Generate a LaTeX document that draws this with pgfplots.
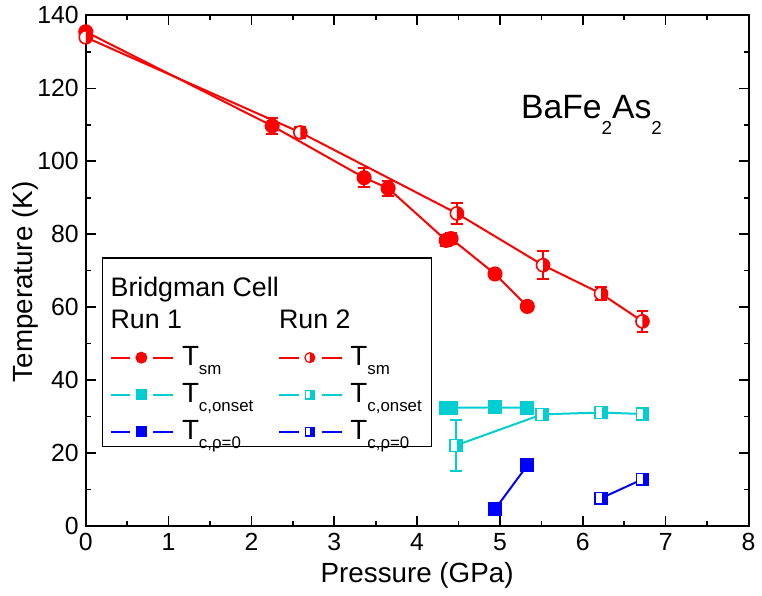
\documentclass[border=0pt]{standalone}
\usepackage{pgfplots}
\pgfplotsset{compat=1.18}
\usepackage{fontspec}
\setmainfont{Liberation Sans}
\definecolor{myred}{RGB}{255,0,0}
\definecolor{mycyan}{RGB}{0,206,209}
\definecolor{myblue}{RGB}{0,0,255}

\pgfdeclareplotmark{halfcircle}{%
  \pgfsetfillcolor{white}%
  \pgfpathcircle{\pgfpointorigin}{\pgfplotmarksize}%
  \pgfusepathqfill
  \pgfsetfillcolor{myred}%
  \pgfpathmoveto{\pgfqpoint{0pt}{\pgfplotmarksize}}%
  \pgfpatharc{90}{-90}{\pgfplotmarksize}%
  \pgfpathclose
  \pgfusepathqfill
  \pgfpathcircle{\pgfpointorigin}{\pgfplotmarksize}%
  \pgfusepathqstroke
}
\newcommand\declhalfsq[2]{\pgfdeclareplotmark{#1}{%
  \pgfsetfillcolor{white}%
  \pgfpathrectangle{\pgfqpoint{-\pgfplotmarksize}{-\pgfplotmarksize}}{\pgfqpoint{2\pgfplotmarksize}{2\pgfplotmarksize}}%
  \pgfusepathqfill
  \pgfsetfillcolor{#2}%
  \pgfpathrectangle{\pgfqpoint{0.1\pgfplotmarksize}{-\pgfplotmarksize}}{\pgfqpoint{0.9\pgfplotmarksize}{2\pgfplotmarksize}}%
  \pgfusepathqfill
  \pgfpathrectangle{\pgfqpoint{-\pgfplotmarksize}{-\pgfplotmarksize}}{\pgfqpoint{2\pgfplotmarksize}{2\pgfplotmarksize}}%
  \pgfusepathqstroke
}}
\declhalfsq{halfsqcyan}{mycyan}
\declhalfsq{halfsqblue}{myblue}

\newcommand\Tsub[1]{T\raisebox{-4.5pt}[0pt][9pt]{\fontsize{8.5}{10}\selectfont #1}}
\newcommand\LegTitle[1]{\raisebox{0pt}[\dimexpr\height+6pt\relax][0pt]{\makebox[0pt][l]{\hspace*{-36pt}\fontsize{13.5}{16}\selectfont
  \begin{tabular}[b]{@{}l@{}}#1\end{tabular}}}}

\pgfplotsset{
  ser/.style={line width=1pt,
    error bars/y dir=both, error bars/y explicit,
    error bars/error bar style={line width=1pt},
    error bars/error mark options={rotate=90, mark size=3pt, line width=1pt}},
}

\begin{document}
\begin{tikzpicture}
\begin{axis}[
  name=ax,
  scale only axis,
  width=334.25pt, height=257.5pt,
  xmin=0, xmax=8, ymin=0, ymax=140,
  xtick={0,1,...,8}, ytick={0,20,...,140},
  minor x tick num=1, minor y tick num=1,
  tick align=inside,
  major tick length=5pt, minor tick length=2.5pt,
  every tick/.style={black, line width=0.8pt},
  axis line style={line width=1pt},
  tick label style={font=\fontsize{12.5}{14}\selectfont},
  /pgf/number format/assume math mode=true,
  label style={font=\fontsize{14}{16}\selectfont},
  xlabel={Pressure (GPa)},
  ylabel={Temperature (K)},
  xlabel style={at={(axis description cs:0.5,0)}, anchor=center, yshift=-25pt},
  ylabel style={at={([xshift=-30.25pt]axis description cs:0,0.478)}, anchor=center},
  legend columns=2,
  legend cell align=left,
  legend style={at={(rel axis cs:0.0247,0.526)}, anchor=north west,
    draw=black, line width=0.6pt, font=\fontsize{14}{16}\selectfont,
    inner xsep=3.5pt, inner ysep=0.5pt,
    nodes={inner sep=1.5pt},
    /tikz/every odd column/.append style={column sep=2.5pt},
    /tikz/every even column/.append style={column sep=11pt},
    /tikz/row sep=4.5pt},
  legend image code/.code={
    \draw[mark=none] (0pt,0pt) -- (10pt,0pt);
    \draw[mark=none] (21.5pt,0pt) -- (31.5pt,0pt);
    \draw plot[only marks] coordinates {(15.5pt,0pt)};
  },
]
% legend
\addlegendimage{empty legend}\addlegendentry{\LegTitle{Bridgman Cell\\[0.5pt]Run 1}}
\addlegendimage{empty legend}\addlegendentry{\LegTitle{\\[0.5pt]Run 2}}
\addlegendimage{myred, line width=1pt, mark=*, mark size=2.5pt}\addlegendentry{\Tsub{sm}}
\addlegendimage{myred, line width=1pt, mark=halfcircle, mark size=2.5pt, mark options={line width=0.6pt}}\addlegendentry{\Tsub{sm}}
\addlegendimage{mycyan, line width=1pt, mark=square*, mark size=2.2pt}\addlegendentry{\Tsub{c,onset}}
\addlegendimage{mycyan, line width=1pt, mark=halfsqcyan, mark size=2.2pt, mark options={line width=0.6pt}}\addlegendentry{\Tsub{c,onset}}
\addlegendimage{myblue, line width=1pt, mark=square*, mark size=2.2pt}\addlegendentry{\Tsub{c,ρ=0}}
\addlegendimage{myblue, line width=1pt, mark=halfsqblue, mark size=2.2pt, mark options={line width=0.6pt}}\addlegendentry{\Tsub{c,ρ=0}}

% Run 1 Tsm
\addplot[myred, ser, mark=*, mark size=3.3pt, forget plot] table[x=x, y=y, y error=e] {
x y e
0 135.5 0.8
2.25 109.7 2.2
3.36 95.5 2.6
3.65 92.6 2.0
4.35 78.3 1.5
4.41 78.8 1.5
4.94 69.1 1.0
5.33 60.2 1.0
};
% Run 2 Tsm
\addplot[myred, ser, mark=halfcircle, mark size=3.3pt, mark options={line width=0.8pt}, forget plot] table[x=x, y=y, y error=e] {
x y e
0 134.0 0.5
2.59 107.9 1.6
4.48 85.7 2.8
5.52 71.5 3.9
6.22 63.7 1.7
6.72 56.1 2.85
};
% Run 1 Tc onset
\addplot[mycyan, ser, mark=square*, mark size=3pt, forget plot] table[x=x, y=y, y error=e] {
x y e
4.35 32.4 0.5
4.41 32.4 0.5
4.94 32.5 0.5
5.33 32.4 0.5
};
% Run 2 Tc onset
\addplot[mycyan, ser, mark=halfsqcyan, mark size=3pt, mark options={line width=0.8pt}, forget plot] table[x=x, y=y, y error=e] {
x y e
4.47 22.1 6.9
5.51 30.6 1.5
6.22 31.1 1.0
6.72 30.7 1.0
};
% Run 1 Tc rho=0
\addplot[myblue, line width=1pt, mark=square*, mark size=3pt, forget plot] table[x=x, y=y] {
x y
4.94 4.6
5.33 16.6
};
% Run 2 Tc rho=0
\addplot[myblue, line width=1pt, mark=halfsqblue, mark size=3pt, mark options={line width=0.8pt}, forget plot] table[x=x, y=y] {
x y
6.22 7.6
6.72 12.8
};

\node[anchor=base west, inner sep=0pt, font=\fontsize{17}{19}\selectfont] at (axis cs:5.25,111.8) {BaFe\raisebox{-8pt}{\fontsize{9.5}{10}\selectfont 2}As\raisebox{-8pt}{\fontsize{9.5}{10}\selectfont 2}};
\end{axis}
\path ([shift={(-43.25pt,-33.5pt)}]ax.south west) rectangle ([shift={(3.5pt,6pt)}]ax.north east);
\end{tikzpicture}
\end{document}
